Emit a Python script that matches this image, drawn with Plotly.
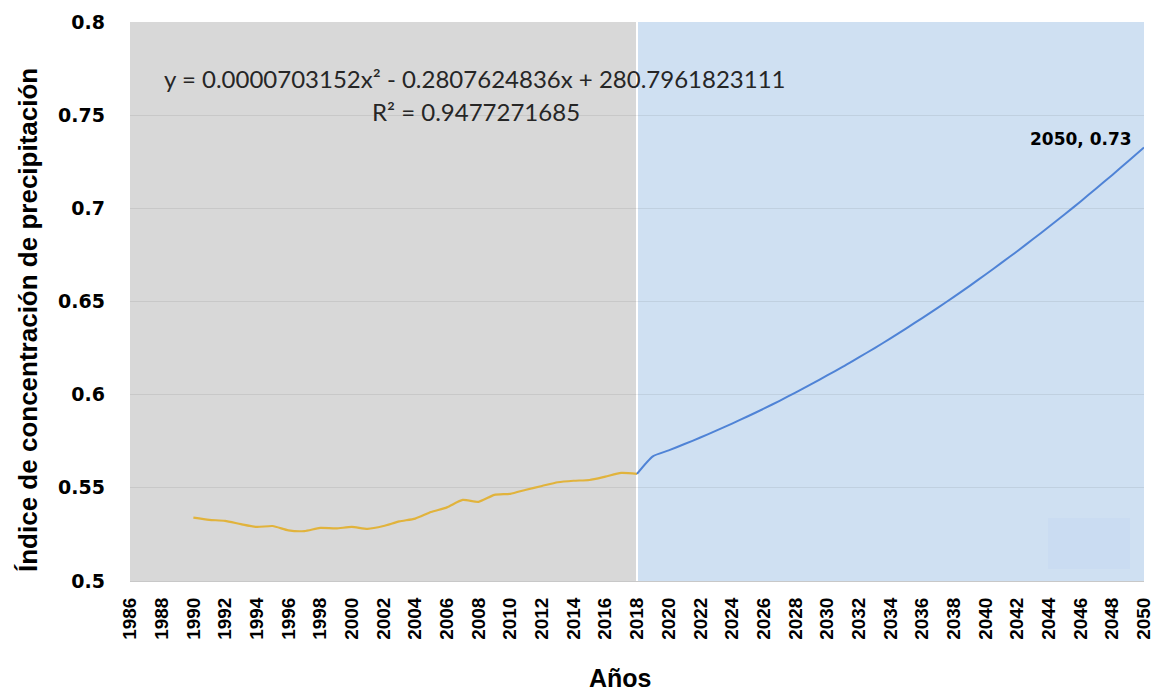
import plotly.graph_objects as go

hist_years = list(range(1990, 2019))
hist_values = [0.534, 0.5328, 0.5323, 0.5305, 0.529, 0.5295, 0.5272, 0.5268, 0.5285, 0.5282,
               0.529, 0.528, 0.5295, 0.532, 0.5335, 0.537, 0.5395, 0.5435, 0.5425, 0.5462,
               0.5468, 0.549, 0.551, 0.553, 0.5538, 0.5542, 0.556, 0.558, 0.5575]

proj_years = list(range(2018, 2051))
proj_values = [0.5575, 0.5669, 0.5701, 0.5735, 0.5770, 0.5807, 0.5845, 0.5884, 0.5925, 0.5967,
               0.6011, 0.6056, 0.6103, 0.6150, 0.6200, 0.6250, 0.6302, 0.6356, 0.6411, 0.6467,
               0.6525, 0.6584, 0.6645, 0.6707, 0.6770, 0.6835, 0.6901, 0.6968, 0.7037, 0.7108,
               0.7179, 0.7253, 0.7327]

x_ticks = list(range(1986, 2051, 2))
y_ticks = [0.5, 0.55, 0.6, 0.65, 0.7, 0.75, 0.8]
y_tick_text = ["0.5", "0.55", "0.6", "0.65", "0.7", "0.75", "0.8"]

equation = "y = 0.0000703152x² - 0.2807624836x + 280.7961823111"
r2_text = "R² = 0.9477271685"
last_label = "2050, 0.73"

W, H = 1156, 691
L, R, T, B = 130, 12, 22, 110
PW, PH = W - L - R, H - T - B


def px(x):
    return (x - L) / PW


def py(y):
    return 1 - (y - T) / PH


fig = go.Figure()
fig.add_trace(go.Scatter(x=hist_years, y=hist_values, mode="lines",
                         line=dict(color="#e1b33c", width=2.2, shape="spline", smoothing=0.6),
                         hoverinfo="x+y", showlegend=False))
fig.add_trace(go.Scatter(x=proj_years, y=proj_values, mode="lines",
                         line=dict(color="#4f83d6", width=2, shape="spline", smoothing=0.6),
                         hoverinfo="x+y", showlegend=False))

shapes = [
    dict(type="rect", xref="x", yref="paper", x0=1986, x1=2018, y0=0, y1=1,
         fillcolor="#d8d8d8", line=dict(width=0), layer="below"),
    dict(type="rect", xref="x", yref="paper", x0=2018, x1=2050, y0=0, y1=1,
         fillcolor="#cfe0f2", line=dict(width=0), layer="below"),
    dict(type="rect", xref="paper", yref="paper", x0=px(1048), x1=px(1130), y0=py(569), y1=py(518),
         fillcolor="#cadcf2", line=dict(width=0), layer="below"),
    dict(type="line", xref="x", yref="paper", x0=2018, x1=2018, y0=0, y1=1,
         line=dict(color="white", width=2), layer="below"),
]

fig.update_layout(
    width=W, height=H,
    margin=dict(l=L, r=R, t=T, b=B, autoexpand=False),
    paper_bgcolor="white", plot_bgcolor="white",
    shapes=shapes,
    xaxis=dict(range=[1986, 2050], tickmode="array", tickvals=x_ticks,
               ticktext=[str(v) for v in x_ticks], tickangle=-90, automargin=False,
               tickfont=dict(family="Liberation Sans", size=19, color="black", weight="bold"),
               showgrid=False, zeroline=False, showline=True, linecolor="#c8c8c8", linewidth=1,
               ticks="", ticklabelstandoff=8),
    yaxis=dict(range=[0.5, 0.8], tickmode="array", tickvals=y_ticks, ticktext=y_tick_text,
               automargin=False,
               tickfont=dict(family="DejaVu Sans", size=19, color="black", weight="bold"),
               showgrid=True, gridcolor="rgba(0,0,0,0.07)", gridwidth=1,
               zeroline=False, showline=False, ticks="", ticklabelstandoff=24),
    annotations=[
        dict(text=equation, x=px(475), y=py(78), xref="paper", yref="paper",
             xanchor="center", yanchor="middle", showarrow=False,
             font=dict(family="Lato", size=24, color="#262626")),
        dict(text=r2_text, x=px(476), y=py(112), xref="paper", yref="paper",
             xanchor="center", yanchor="middle", showarrow=False,
             font=dict(family="Lato", size=24, color="#262626")),
        dict(text="<b>" + last_label + "</b>", x=px(1134), y=py(139), xref="paper", yref="paper",
             xanchor="right", yanchor="middle", showarrow=False,
             font=dict(family="DejaVu Sans", size=17, color="black")),
        dict(text="<b>Años</b>", x=px(620), y=py(678), xref="paper", yref="paper",
             xanchor="center", yanchor="middle", showarrow=False,
             font=dict(family="Liberation Sans", size=25, color="black")),
        dict(text="<b>Índice de concentración de precipitación</b>", x=px(28), y=py(320),
             xref="paper", yref="paper", textangle=-90, xanchor="center", yanchor="middle",
             showarrow=False, font=dict(family="Liberation Sans", size=26, color="black")),
    ],
)

fig.write_html("out.html", config={"displayModeBar": False})

with open("out.html", "r", encoding="utf-8") as f:
    html = f.read()
html = html.replace("<body>", '<body style="margin:0;padding:0;overflow:hidden">', 1)
with open("out.html", "w", encoding="utf-8") as f:
    f.write(html)
